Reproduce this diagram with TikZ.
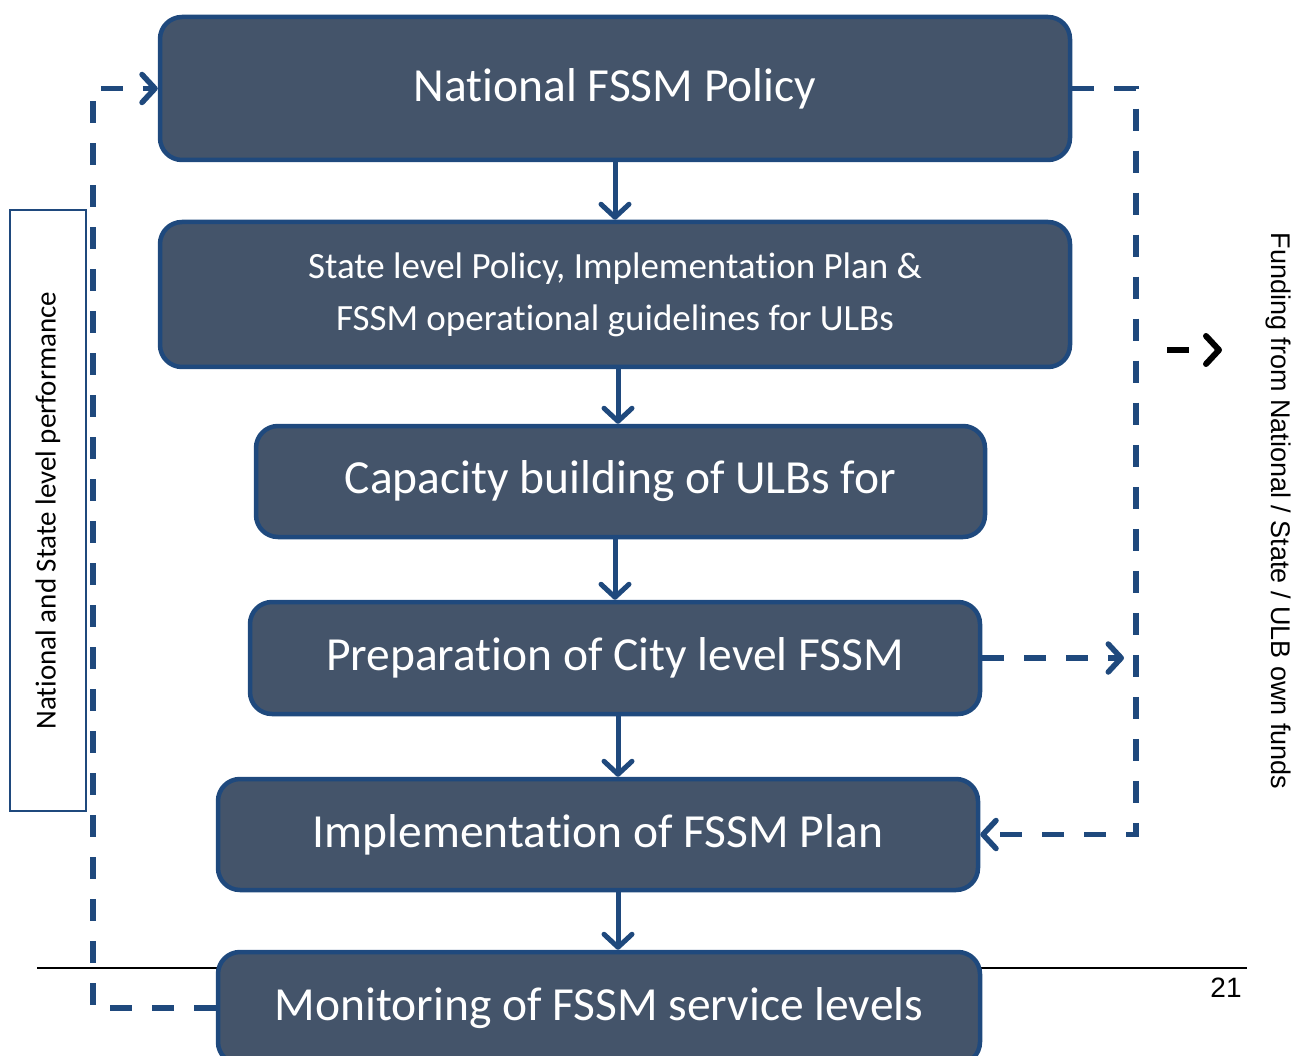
\documentclass[tikz,border=0pt]{standalone}
\usepackage{fontspec}
\setmainfont{Carlito}[RawFeature={-liga;-clig;-dlig;-calt}]
\newfontfamily\arialfont{Liberation Sans}
\usetikzlibrary{arrows.meta,positioning,calc}
\definecolor{boxfill}{RGB}{68,84,106}
\definecolor{boxline}{RGB}{31,73,125}

\begin{document}
\begin{tikzpicture}[x=1pt, y=-1pt,
    >={Straight Barb[length=13pt,width=28pt,round]},
    stagebox/.style={draw=boxline, line width=4.5pt, fill=boxfill, rounded corners=22pt, text=white, inner sep=0pt},
    bigtext/.style={font=\fontsize{47.5}{57}\selectfont},
    flow/.style={draw=boxline, line width=5pt, ->},
    dashline/.style={draw=boxline, line width=5.5pt, dash pattern=on 22pt off 20pt}]
      \useasboundingbox (0,0) rectangle (1293,1056);
      %slide rule and page number
      \draw[line width=2pt] (37,968) -- (1247,968);
      \node[font=\arialfont\fontsize{28}{30}\selectfont] (pgnum) at (1226,988) {21};
      %stages
      \node[stagebox, bigtext, minimum width=910pt, minimum height=143pt] (pol) at (615,88.5) {National FSSM Policy};
      \node[stagebox, font=\fontsize{37}{52}\selectfont, align=center, minimum width=910pt, minimum height=145pt] (state) at (615,294.5) {State level Policy, Implementation Plan \&\\FSSM operational guidelines for ULBs};
      \node[stagebox, bigtext, minimum width=729pt, minimum height=111pt] (cap) at (620.5,481.5) {Capacity building of ULBs for};
      \node[stagebox, bigtext, minimum width=730pt, minimum height=112pt] (prep) at (615,658) {Preparation of City level FSSM};
      \node[stagebox, bigtext, minimum width=760pt, minimum height=111pt] (impl) at (598,834.5) {Implementation of FSSM Plan};
      \node[stagebox, bigtext, minimum width=762pt, minimum height=112pt] (mon) at (599,1008) {Monitoring of FSSM service levels};
      %side labels
      \node[draw=boxline, line width=1.5pt, fill=white, rotate=90, minimum width=601pt, minimum height=76pt, font=\fontsize{29}{30}\selectfont] (perf) at (48,510.5) {National and State level performance};
      \node[rotate=-90, font=\arialfont\fontsize{27}{30}\selectfont] (fund) at (1278,511) {Funding from National / State / ULB own funds};
      %flow
      \path[flow] (pol.south) -- (state.north);
      \path[flow] (state.south -| 618,0) -- (cap.north -| 618,0);
      \path[flow] (cap.south -| pol.south) -- (prep.north -| pol.south);
      \path[flow] (prep.south -| 618,0) -- (impl.north -| 618,0);
      \path[flow] (impl.south -| 618,0) -- (mon.north -| 618,0);
      %feedback loops
      \coordinate (lft) at (93,500);
      \coordinate (rgt) at (1136,500);
      \path[dashline, ->] (mon.west) -| (lft) |- (pol.west);
      \path[dashline, ->] (pol.east) -| (rgt) |- (impl.east);
      \path[dashline, ->, shorten >=12pt] (prep.east) -- (prep.east -| rgt);
      %legend arrow
      \coordinate (ks) at (1167,350);
      \coordinate (ke) at (1222,350);
      \path[draw=black, line width=6pt, dash pattern=on 22pt off 40pt, ->] (ks) -- (ke);
    \end{tikzpicture}
\end{document}
